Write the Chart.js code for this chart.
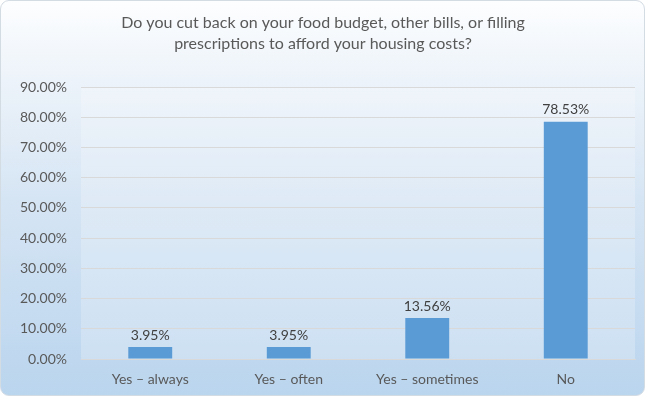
<!DOCTYPE html>
<html>
<head>
<meta charset="utf-8">
<script src="https://cdn.jsdelivr.net/npm/chart.js@4"></script>
<style>
  html, body { margin: 0; padding: 0; background: #ffffff; }
  #wrap {
    position: absolute; left: 0; top: 0; width: 643px; height: 394px;
    border: 1px solid #d3dbe3; border-radius: 9px;
    background: linear-gradient(180deg, #fdfeff 0%, #eef4fa 18%, #d6e5f4 50%, #bad5ee 100%);
    overflow: hidden;
  }
  #c { position: absolute; left: 0; top: 0; }
</style>
</head>
<body>
<div id="wrap"><canvas id="c" width="643" height="394"></canvas></div>
<script>
const titleLines = ["Do you cut back on your food budget, other bills, or filling", "prescriptions to afford your housing costs?"];
const categories = ["Yes \u2013 always", "Yes \u2013 often", "Yes \u2013 sometimes", "No"];
const values = [3.95, 3.95, 13.56, 78.53];
const yMin = 0, yMax = 90, yStep = 10;

const FONT = "Lato, 'Open Sans', sans-serif";

const plotFill = {
  id: 'plotFill',
  beforeDraw(chart) {
    const a = chart.chartArea, ctx = chart.ctx;
    ctx.save();
    ctx.fillStyle = 'rgba(255,255,255,0.22)';
    ctx.fillRect(a.left, a.top, a.right - a.left, a.bottom - a.top);
    ctx.restore();
  }
};

const valueLabels = {
  id: 'valueLabels',
  afterDatasetsDraw(chart) {
    const ctx = chart.ctx;
    const meta = chart.getDatasetMeta(0);
    ctx.save();
    ctx.font = "14px " + FONT;
    ctx.fillStyle = "#404040";
    ctx.textAlign = "center";
    ctx.textBaseline = "middle";
    meta.data.forEach((bar, i) => {
      ctx.fillText(values[i].toFixed(2) + "%", bar.x, bar.y - 12);
    });
    ctx.restore();
  }
};

new Chart(document.getElementById('c'), {
  type: 'bar',
  data: {
    labels: categories,
    datasets: [{
      data: values,
      backgroundColor: '#5b9bd5',
      borderWidth: 0,
      categoryPercentage: 1.0,
      barPercentage: 0.317
    }]
  },
  options: {
    responsive: false,
    animation: false,
    layout: { padding: { left: 10, right: 9, top: 0, bottom: 0 } },
    plugins: {
      legend: { display: false },
      tooltip: { enabled: false },
      title: {
        display: true,
        text: titleLines,
        color: '#595959',
        font: { family: FONT, size: 16, weight: 'normal', lineHeight: 1.3 },
        padding: { top: 11.6, bottom: 32.8 }
      }
    },
    scales: {
      y: {
        min: yMin, max: yMax,
        afterFit(scale) { scale.width = 70; },
        ticks: {
          stepSize: yStep,
          color: '#595959',
          font: { family: FONT, size: 14 },
          padding: 14,
          callback: v => v.toFixed(2) + '%'
        },
        grid: { color: '#d9d9d9', drawTicks: false },
        border: { display: false }
      },
      x: {
        afterFit(scale) { scale.height = 36; },
        ticks: { color: '#595959', font: { family: FONT, size: 14 }, padding: 12 },
        grid: { display: false, drawTicks: false },
        border: { display: true, color: '#d9d9d9' }
      }
    }
  },
  plugins: [plotFill, valueLabels]
});
</script>
</body>
</html>
